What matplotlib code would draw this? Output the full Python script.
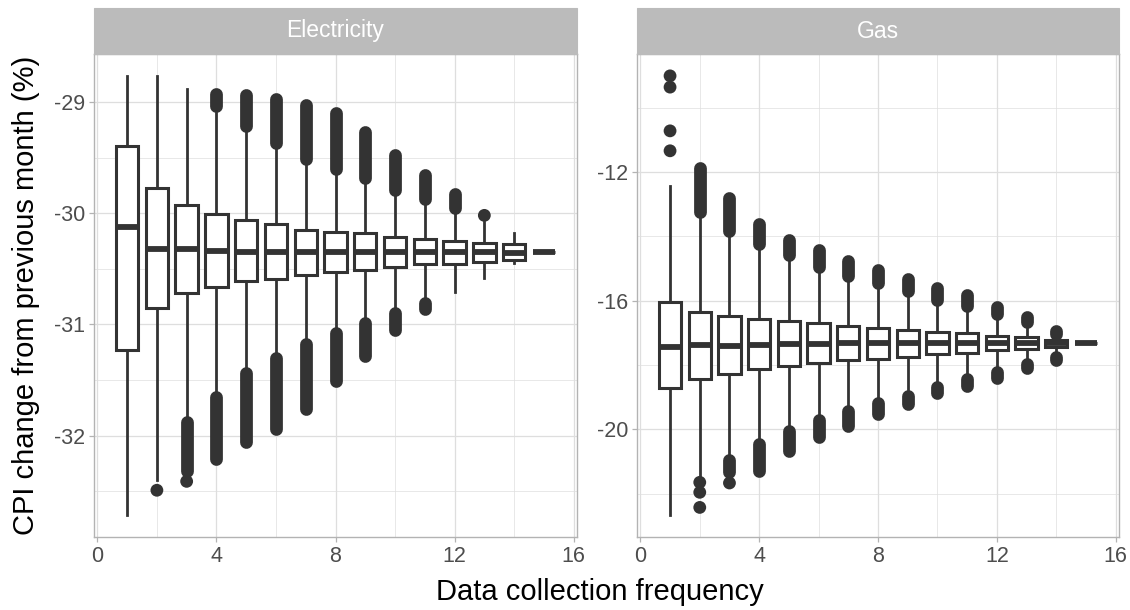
import numpy as np
import matplotlib
matplotlib.use("Agg")
import matplotlib.pyplot as plt
from matplotlib.patches import Rectangle

# ── Data ──────────────────────────────────────────────────────────────────────
freq = list(range(1, 16))

elec_whislo = [-32.71, -32.40, -31.83, -31.60, -31.38, -31.25, -31.13, -31.02,
               -30.94, -30.86, -30.77, -30.71, -30.58, -30.45, -30.35]
elec_q1 = [-31.23, -30.85, -30.72, -30.66, -30.61, -30.59, -30.56, -30.53,
           -30.51, -30.48, -30.46, -30.46, -30.44, -30.42, -30.35]
elec_med = [-30.12, -30.32, -30.32, -30.34, -30.35, -30.35, -30.35, -30.35,
            -30.35, -30.35, -30.35, -30.35, -30.35, -30.36, -30.35]
elec_q3 = [-29.40, -29.77, -29.93, -30.01, -30.06, -30.10, -30.15, -30.17,
           -30.18, -30.21, -30.23, -30.25, -30.27, -30.28, -30.35]
elec_whishi = [-28.77, -28.77, -28.88, -29.10, -29.27, -29.41, -29.55, -29.64,
               -29.72, -29.83, -29.90, -29.98, -30.08, -30.18, -30.35]
# dense outlier runs: (x, from, to)
elec_bands = [(4, -28.93, -29.04), (5, -28.94, -29.22), (6, -28.97, -29.37),
              (7, -29.03, -29.51), (8, -29.10, -29.60), (9, -29.27, -29.68),
              (10, -29.48, -29.79), (11, -29.66, -29.87), (12, -29.83, -29.95),
              (3, -31.88, -32.32), (4, -31.65, -32.21), (5, -31.44, -32.06),
              (6, -31.30, -31.94), (7, -31.18, -31.76), (8, -31.08, -31.51),
              (9, -30.99, -31.28), (10, -30.90, -31.05), (11, -30.81, -30.86)]
elec_points_x = [2, 3, 13]
elec_points_y = [-32.49, -32.41, -30.02]

gas_whislo = [-22.67, -21.50, -20.78, -20.29, -19.90, -19.57, -19.28, -19.02,
              -18.76, -18.50, -18.26, -18.04, -17.78, -17.57, -17.31]
gas_q1 = [-18.71, -18.43, -18.27, -18.14, -18.04, -17.93, -17.86, -17.81,
          -17.75, -17.65, -17.62, -17.54, -17.49, -17.44, -17.31]
gas_med = [-17.45, -17.39, -17.40, -17.38, -17.36, -17.34, -17.33, -17.31,
           -17.31, -17.31, -17.31, -17.31, -17.31, -17.31, -17.31]
gas_q3 = [-16.03, -16.35, -16.47, -16.57, -16.64, -16.71, -16.80, -16.85,
          -16.90, -16.97, -17.02, -17.09, -17.13, -17.21, -17.31]
gas_whishi = [-12.42, -13.44, -14.01, -14.44, -14.78, -15.12, -15.40, -15.65,
              -15.89, -16.16, -16.36, -16.61, -16.85, -17.11, -17.31]
gas_bands = [(2, -11.87, -13.25), (3, -12.80, -13.82), (4, -13.62, -14.25),
             (5, -14.11, -14.59), (6, -14.42, -14.94), (7, -14.76, -15.22),
             (8, -15.04, -15.46), (9, -15.33, -15.70), (10, -15.61, -15.97),
             (11, -15.82, -16.18), (12, -16.21, -16.42), (13, -16.52, -16.66),
             (14, -16.93, -17.03),
             (3, -20.94, -21.32), (4, -20.47, -21.31), (5, -20.05, -20.69),
             (6, -19.72, -20.23), (7, -19.44, -19.89), (8, -19.17, -19.52),
             (9, -18.95, -19.21), (10, -18.69, -18.88), (11, -18.45, -18.65),
             (12, -18.22, -18.42), (13, -17.96, -18.11), (14, -17.76, -17.85)]
gas_points_x = [1, 1, 1, 1, 2, 2, 2, 3]
gas_points_y = [-9.01, -9.36, -10.72, -11.34, -21.65, -21.96, -22.43, -21.67]

# ── Style ─────────────────────────────────────────────────────────────────────
plt.rcParams["font.family"] = ["Liberation Sans", "DejaVu Sans"]
INK = "#333333"
GRID = "#DEDEDE"
BORDER = "#B3B3B3"
STRIP = "#BBBBBB"
TXT = "#4D4D4D"

fig = plt.figure(figsize=(11.3, 6.1), dpi=100)

W, H = 1130, 610
panels = [
    dict(title="Electricity", left=94, right=577,
         wl=elec_whislo, q1=elec_q1, med=elec_med, q3=elec_q3, wh=elec_whishi,
         bands=elec_bands, px=elec_points_x, py=elec_points_y,
         ylim=(-32.91, -28.57), yt=[-32, -31, -30, -29],
         ym=[-32.5, -31.5, -30.5, -29.5]),
    dict(title="Gas", left=637, right=1119,
         wl=gas_whislo, q1=gas_q1, med=gas_med, q3=gas_q3, wh=gas_whishi,
         bands=gas_bands, px=gas_points_x, py=gas_points_y,
         ylim=(-23.35, -8.33), yt=[-20, -16, -12],
         ym=[-22, -18, -14, -10]),
]
top, bottom, strip_top = 54, 537, 8

for p in panels:
    ax = fig.add_axes([p["left"] / W, (H - bottom) / H,
                       (p["right"] - p["left"]) / W, (bottom - top) / H])
    ax.set_xlim(-0.1125, 16.1125)
    ax.set_ylim(*p["ylim"])
    ax.set_xticks([0, 4, 8, 12, 16])
    ax.set_xticks([2, 6, 10, 14], minor=True)
    ax.set_yticks(p["yt"])
    ax.set_yticks(p["ym"], minor=True)
    ax.set_yticklabels([str(v) for v in p["yt"]])
    ax.grid(which="major", color=GRID, lw=0.9, zorder=0)
    ax.grid(which="minor", color=GRID, lw=0.5, zorder=0)
    ax.set_axisbelow(True)
    ax.tick_params(which="major", length=3.5, width=0.9, color=BORDER,
                   labelcolor=TXT, labelsize=15.5, pad=3)
    ax.tick_params(which="minor", length=0)
    for s in ax.spines.values():
        s.set_color(BORDER)
        s.set_linewidth(1.0)

    stats = []
    for i, x in enumerate(freq):
        stats.append(dict(med=p["med"][i], q1=p["q1"][i], q3=p["q3"][i],
                          whislo=p["wl"][i], whishi=p["wh"][i], fliers=[]))
    ax.bxp(stats, positions=freq, widths=0.75, showcaps=False,
           showfliers=False, patch_artist=True, manage_ticks=False,
           boxprops=dict(facecolor="white", edgecolor=INK, lw=2.2),
           whiskerprops=dict(color=INK, lw=2.0),
           medianprops=dict(color=INK, lw=4.2, solid_capstyle="butt"))
    for x, a, b in p["bands"]:
        ax.plot([x, x], [a, b], color=INK, lw=9.2, solid_capstyle="round",
                zorder=4)
    ax.scatter(p["px"], p["py"], s=85, color=INK, edgecolors="none", zorder=4)

    # facet strip
    fig.patches.append(Rectangle((p["left"] / W, (H - top) / H),
                                 (p["right"] - p["left"]) / W,
                                 (top - strip_top) / H,
                                 transform=fig.transFigure, facecolor=STRIP,
                                 edgecolor=STRIP, lw=0.8))
    fig.text((p["left"] + p["right"]) / 2 / W, (H - (top + strip_top) / 2) / H,
             p["title"], color="white", fontsize=16.5, ha="center", va="center")

fig.text(26 / W, (H - (top + bottom) / 2) / H,
         "CPI change from previous month (%)", rotation=90, fontsize=21,
         ha="center", va="center", color="black")
fig.text(600 / W, (H - 592) / H, "Data collection frequency",
         fontsize=21, ha="center", va="center", color="black")

fig.savefig("out.png", dpi=100)
